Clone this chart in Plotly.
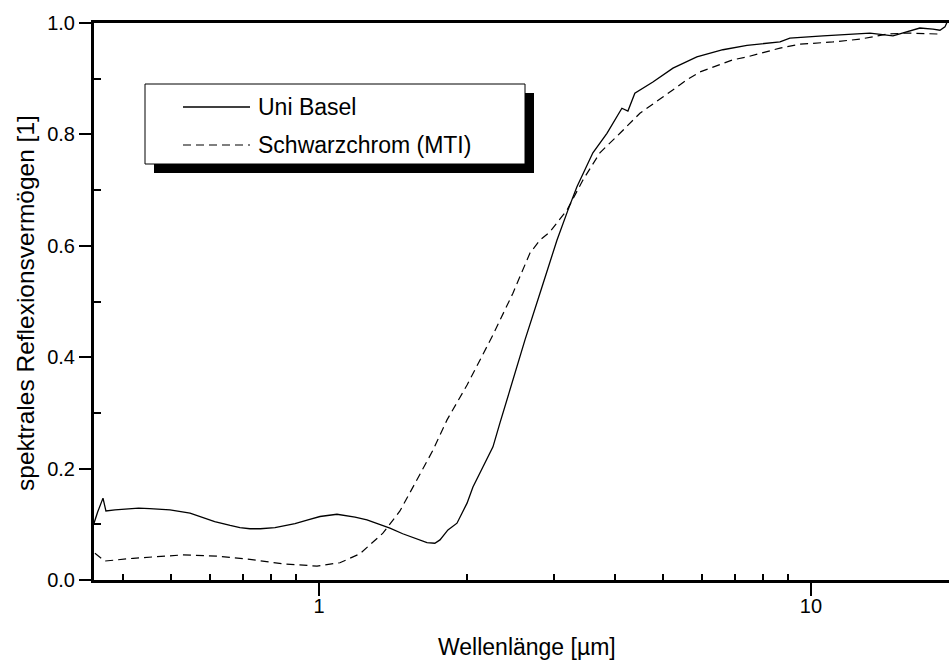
import plotly.graph_objects as go
import math

# ---------------- data ----------------
basel_wl = [0.349, 0.355, 0.364, 0.369, 0.385, 0.407, 0.430, 0.453, 0.498, 0.547,
            0.614, 0.660, 0.691, 0.724, 0.760, 0.814, 0.894, 0.950, 1.005, 1.088,
            1.184, 1.252, 1.394, 1.480, 1.553, 1.658, 1.720, 1.762, 1.829, 1.908,
            2.000, 2.056, 2.154, 2.258, 2.333, 2.479, 2.623, 2.840, 3.046, 3.207,
            3.345, 3.604, 3.849, 4.128, 4.246, 4.386, 4.773, 5.243, 5.862, 6.622,
            7.413, 8.650, 9.060, 10.58, 12.00, 13.18, 14.68, 15.38, 16.65, 17.70,
            18.29, 18.72, 18.99]
basel_r = [0.102, 0.122, 0.147, 0.124, 0.126, 0.128, 0.129, 0.128, 0.126, 0.120,
           0.105, 0.098, 0.094, 0.092, 0.092, 0.094, 0.101, 0.108, 0.114, 0.118,
           0.113, 0.108, 0.093, 0.083, 0.076, 0.067, 0.066, 0.072, 0.090, 0.102,
           0.138, 0.167, 0.203, 0.239, 0.282, 0.359, 0.431, 0.526, 0.610, 0.664,
           0.706, 0.767, 0.802, 0.847, 0.842, 0.874, 0.894, 0.919, 0.939, 0.952,
           0.960, 0.966, 0.973, 0.977, 0.980, 0.982, 0.977, 0.982, 0.991, 0.989,
           0.987, 0.993, 1.005]

mti_wl = [0.3505, 0.367, 0.419, 0.529, 0.620, 0.724, 0.845, 0.991, 1.103, 1.211,
          1.349, 1.461, 1.582, 1.705, 1.820, 2.000, 2.258, 2.479, 2.685, 2.812,
          2.948, 3.192, 3.440, 3.724, 4.091, 4.491, 5.000, 5.597, 5.944, 6.322,
          6.941, 7.413, 8.139, 8.650, 9.500, 11.08, 12.58, 14.27, 15.67, 17.70,
          18.46]
mti_r = [0.048, 0.034, 0.039, 0.045, 0.043, 0.037, 0.029, 0.025, 0.031, 0.047,
         0.084, 0.124, 0.180, 0.233, 0.287, 0.350, 0.440, 0.515, 0.587, 0.610,
         0.625, 0.664, 0.718, 0.767, 0.802, 0.838, 0.867, 0.898, 0.912, 0.921,
         0.934, 0.939, 0.948, 0.955, 0.962, 0.966, 0.971, 0.980, 0.982, 0.980,
         0.980]

series_names = ["Uni Basel", "Schwarzchrom (MTI)"]
x_major_ticks = [1, 10]
x_major_labels = ["1", "10"]
x_minor_ticks = [0.4, 0.5, 0.6, 0.7, 0.8, 0.9, 2, 3, 4, 5, 6, 7, 8, 9]
y_major_ticks = [0.0, 0.2, 0.4, 0.6, 0.8, 1.0]
y_minor_ticks = [0.1, 0.3, 0.5, 0.7, 0.9]
x_title = "Wellenlänge [µm]"
y_title = "spektrales Reflexionsvermögen [1]"

# ---------------- layout geometry ----------------
W, H = 949, 660
L, R, T, B = 94, 0, 23, 80
PW, PH = W - L - R, H - T - B
XR = [math.log10(0.349), math.log10(19.08)]
FONT = "Liberation Sans, Arial, sans-serif"


def px(x):
    return (x - L) / PW


def py(y):
    return (H - B - y) / PH


fig = go.Figure()
fig.add_trace(go.Scatter(x=basel_wl, y=basel_r, mode="lines", name=series_names[0],
                         line=dict(color="black", width=1.3), showlegend=False))
fig.add_trace(go.Scatter(x=mti_wl, y=mti_r, mode="lines", name=series_names[1],
                         line=dict(color="black", width=1.2, dash="8px,5px"),
                         showlegend=False))

fig.update_layout(
    width=W, height=H,
    margin=dict(l=L, r=R, t=T, b=B, pad=0),
    paper_bgcolor="white", plot_bgcolor="white",
    font=dict(family=FONT, size=20, color="black"),
    showlegend=False,
    xaxis=dict(type="log", range=XR, showgrid=False, zeroline=False,
               showline=True, linecolor="black", linewidth=3, mirror=True,
               ticks="outside", ticklen=13, tickwidth=2, tickcolor="black",
               tickvals=x_major_ticks, ticktext=x_major_labels,
               tickfont=dict(size=20), ticklabelstandoff=-7,
               minor=dict(ticks="inside", ticklen=6, tickwidth=2,
                          tickcolor="black", tickvals=x_minor_ticks)),
    xaxis2=dict(type="log", range=XR, overlaying="x", anchor="y", side="bottom",
                showgrid=False, zeroline=False, showline=False,
                ticks="inside", ticklen=12, tickwidth=2, tickcolor="black",
                tickvals=x_major_ticks, showticklabels=False),
    yaxis=dict(range=[0, 1], showgrid=False, zeroline=False,
               showline=True, linecolor="black", linewidth=3,
               ticks="outside", ticklen=12, tickwidth=2, tickcolor="black",
               tickvals=y_major_ticks, tickformat=".1f",
               tickfont=dict(size=20),
               minor=dict(ticks="inside", ticklen=7, tickwidth=2,
                          tickcolor="black", tickvals=y_minor_ticks)),
)

# axis titles
fig.add_annotation(text=x_title, xref="paper", yref="paper", x=px(527), y=py(647),
                   showarrow=False, font=dict(size=23), xanchor="center", yanchor="middle")
fig.add_annotation(text=y_title, xref="paper", yref="paper", x=px(25), y=py(303),
                   showarrow=False, font=dict(size=24.5), textangle=-90,
                   xanchor="center", yanchor="middle")

# legend box with shadow
fig.add_shape(type="rect", xref="paper", yref="paper",
              x0=px(154), x1=px(534), y0=py(173), y1=py(93),
              fillcolor="black", line=dict(width=0))
fig.add_shape(type="rect", xref="paper", yref="paper",
              x0=px(145), x1=px(525), y0=py(164), y1=py(84),
              fillcolor="white", line=dict(color="black", width=1))
fig.add_shape(type="line", xref="paper", yref="paper",
              x0=px(183), x1=px(250), y0=py(107), y1=py(107),
              line=dict(color="black", width=1.3))
fig.add_shape(type="line", xref="paper", yref="paper",
              x0=px(183), x1=px(250), y0=py(145), y1=py(145),
              line=dict(color="black", width=1.2, dash="8px,5px"))
fig.add_annotation(text=series_names[0], xref="paper", yref="paper", x=px(256), y=py(107),
                   showarrow=False, font=dict(size=23), xanchor="left", yanchor="middle")
fig.add_annotation(text=series_names[1], xref="paper", yref="paper", x=px(256), y=py(145),
                   showarrow=False, font=dict(size=23), xanchor="left", yanchor="middle")

fig.write_html("out.html", config={"displayModeBar": False},
               post_script="document.body.style.margin='0';")
